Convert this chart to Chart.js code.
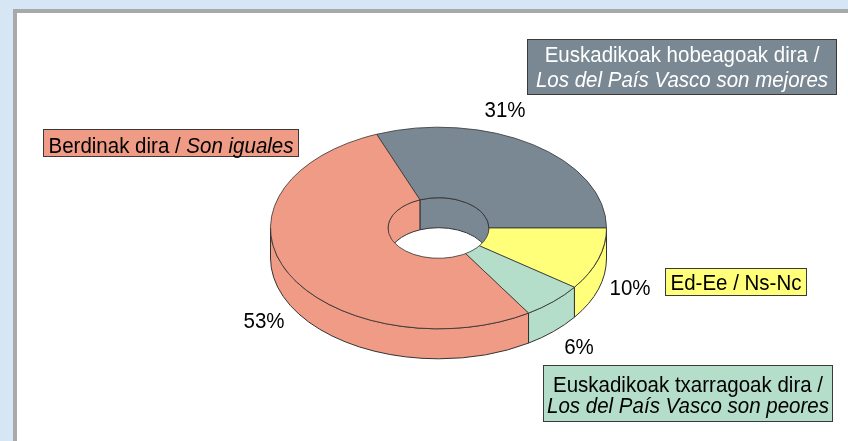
<!DOCTYPE html>
<html>
<head>
<meta charset="utf-8">
<script src="https://cdn.jsdelivr.net/npm/chart.js@4"></script>
<style>
  html, body { margin: 0; padding: 0; width: 848px; height: 441px; overflow: hidden; background: #d6e6f5; }
  #panel { position: absolute; left: 13px; top: 9px; width: 900px; height: 500px; background: #fff;
           border-left: 4px solid #a9a9a9; border-top: 4px solid #a9a9a9; }
  #wrap { position: absolute; left: 0; top: 0; width: 848px; height: 441px; }
</style>
</head>
<body>
<div id="panel"></div>
<div id="wrap"><canvas id="pie"></canvas></div>
<script>
// slices, clockwise from the top-left cut
const namesEu = ["Euskadikoak hobeagoak dira", "Ed-Ee", "Euskadikoak txarragoak dira", "Berdinak dira"];
const namesEs = ["Los del País Vasco son mejores", "Ns-Nc", "Los del País Vasco son peores", "Son iguales"];
const values = [31, 10, 6, 53];
const pctLabels = ["31%", "10%", "6%", "53%"];
const colors = ["#7a8893", "#ffff7a", "#b4dec9", "#ef9b85"];

const TILT = 0.6;     // vertical squash of the disc
const DEPTH = 30;     // thickness of the ring in px
const EDGE = "#333";
const FONT = '20.5px "Liberation Sans", Arial, sans-serif';
const FONT_I = 'italic 20.5px "Liberation Sans", Arial, sans-serif';
const STRETCH = 1.06;

// where the text sits (alphabetic baselines)
const pctPos = [[505, 117], [630, 295], [579, 354], [264, 328]];
const boxes = [
  { r: [527, 39, 837, 95], lines: [[namesEu[0] + " /", false], [namesEs[0], true]], base: [62, 87], ink: "#fff" },
  { r: [665, 268, 807, 296], lines: [[namesEu[1] + " / " + namesEs[1], false]], base: [290], ink: "#000" },
  { r: [543, 365, 833, 422], lines: [[namesEu[2] + " /", false], [namesEs[2], true]], base: [392, 413], ink: "#000" },
  { r: [43, 129, 299, 157], lines: [[[namesEu[3] + " / ", false], [namesEs[3], true]]], base: [153], ink: "#000" },
];

function ranges(s, e, lo, hi) {
  const out = [];
  for (let k = -1; k <= 1; k++) {
    const a = Math.max(s, lo + 2 * Math.PI * k), b = Math.min(e, hi + 2 * Math.PI * k);
    if (b > a) out.push([a, b]);
  }
  return out;
}

function wall(ctx, cx, cy, r, a1, a2, color) {
  const ry = r * TILT;
  ctx.beginPath();
  ctx.ellipse(cx, cy, r, ry, 0, a1, a2, false);
  ctx.ellipse(cx, cy + DEPTH, r, ry, 0, a2, a1, true);
  ctx.closePath();
  ctx.fillStyle = color;
  ctx.fill();
  ctx.lineWidth = 1;
  ctx.strokeStyle = EDGE;
  ctx.stroke();
}

function stretchedText(ctx, t, x, y, align) {
  ctx.save();
  ctx.translate(x, y);
  ctx.scale(1, STRETCH);
  ctx.textAlign = align || "left";
  ctx.textBaseline = "alphabetic";
  ctx.fillText(t, 0, 0);
  ctx.restore();
}

const tilt3d = {
  id: "tilt3d",
  beforeDatasetsDraw(chart) {
    const ctx = chart.ctx;
    const arcs = chart.getDatasetMeta(0).data;
    const cx = arcs[0].x, cy = arcs[0].y;
    ctx.save();
    // inner wall, back half of the hole
    arcs.forEach((a, i) => {
      ranges(a.startAngle, a.endAngle, Math.PI, 2 * Math.PI)
        .forEach(([s, e]) => wall(ctx, cx, cy, a.innerRadius, s, e, colors[i]));
    });
    // outer wall, front half
    arcs.forEach((a, i) => {
      ranges(a.startAngle, a.endAngle, 0, Math.PI)
        .forEach(([s, e]) => wall(ctx, cx, cy, a.outerRadius, s, e, colors[i]));
    });
    ctx.restore();
    // squash the top face
    ctx.save();
    ctx.translate(cx, cy);
    ctx.scale(1, TILT);
    ctx.translate(-cx, -cy);
  },
  afterDatasetsDraw(chart) {
    chart.ctx.restore();
  },
  afterDraw(chart) {
    const ctx = chart.ctx;
    ctx.save();
    ctx.fillStyle = "#000";
    ctx.font = FONT;
    pctLabels.forEach((t, i) => stretchedText(ctx, t, pctPos[i][0], pctPos[i][1], "center"));

    boxes.forEach((b, i) => {
      const [x1, y1, x2, y2] = b.r;
      ctx.fillStyle = colors[i];
      ctx.fillRect(x1, y1, x2 - x1, y2 - y1);
      ctx.lineWidth = 1;
      ctx.strokeStyle = "#3a3a3a";
      ctx.strokeRect(x1 + 0.5, y1 + 0.5, x2 - x1 - 1, y2 - y1 - 1);
      const mid = (x1 + x2) / 2;
      ctx.fillStyle = b.ink;
      b.lines.forEach((ln, j) => {
        const segs = Array.isArray(ln[0]) ? ln : [ln];
        let w = 0;
        segs.forEach(([t, it]) => { ctx.font = it ? FONT_I : FONT; w += ctx.measureText(t).width; });
        let x = mid - w / 2;
        segs.forEach(([t, it]) => {
          ctx.font = it ? FONT_I : FONT;
          stretchedText(ctx, t, x, b.base[j]);
          x += ctx.measureText(t).width;
        });
      });
    });
    ctx.restore();
  }
};

new Chart(document.getElementById("pie"), {
  type: "doughnut",
  data: {
    labels: namesEu,
    datasets: [{
      data: values,
      backgroundColor: colors,
      borderColor: EDGE,
      borderWidth: 1,
      radius: 168,
      cutout: "30.06%",
      rotation: -21.6,
      hoverOffset: 0,
    }]
  },
  options: {
    responsive: true,
    maintainAspectRatio: false,
    animation: false,
    events: [],
    layout: { padding: { left: 29, right: 0, top: 15, bottom: 0 } },
    plugins: { legend: { display: false }, tooltip: { enabled: false } },
  },
  plugins: [tilt3d],
});
</script>
</body>
</html>
